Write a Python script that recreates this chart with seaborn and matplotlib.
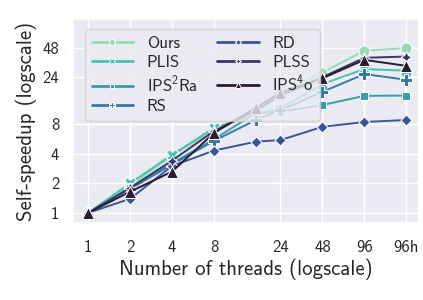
import matplotlib
matplotlib.use("Agg")
import matplotlib.pyplot as plt
from matplotlib.ticker import NullLocator
import pandas as pd
import seaborn as sns

# thread counts (192 = 96 cores with hyperthreading)
threads = [1, 2, 4, 8, 16, 24, 48, 96, 192]
tick_values = [1, 2, 4, 8, 24, 48, 96, 192]
tick_labels = ["1", "2", "4", "8", "24", "48", "96", "96h"]
y_ticks = [1, 2, 4, 8, 24, 48]

algos = ["Ours", "PLIS", "IPS$^2$Ra", "RS", "RD", "PLSS", "IPS$^4$o"]
ours = [1, 1.9, 3.8, 7.0, 11.5, 16.5, 26.7, 44.8, 47.4]
plis = [1, 2.0, 3.9, 7.3, 10.0, 11.5, 20.5, 29.0, 28.0]
ips2ra = [1, 1.8, 3.2, 5.6, 10.4, 10.7, 12.5, 15.5, 15.6]
rs = [1, 1.75, 3.1, 5.4, 8.8, 11.1, 17.0, 25.8, 22.6]
rd = [1, 1.39, 3.0, 4.3, 5.3, 5.5, 7.5, 8.4, 8.8]
plss = [1, 1.8, 3.4, 6.8, 11.0, 15.5, 24.0, 37.8, 38.9]
ips4o = [1, 1.64, 2.63, 6.5, 11.7, 16.6, 23.4, 36.0, 31.3]

series = [ours, plis, ips2ra, rs, rd, plss, ips4o]
rows = []
for name, vals in zip(algos, series):
    for t, v in zip(threads, vals):
        rows.append({"threads": t, "speedup": v, "algo": name})
df = pd.DataFrame(rows)

sns.set_theme(style="darkgrid")
plt.rcParams["font.family"] = ["cmss10", "DejaVu Sans"]
plt.rcParams["mathtext.fontset"] = "custom"
plt.rcParams["mathtext.rm"] = "cmss10"
plt.rcParams["mathtext.sf"] = "cmss10"
plt.rcParams["axes.unicode_minus"] = False

fig = plt.figure(figsize=(4.23, 3.0), dpi=100)
ax = fig.add_axes([0.173, 0.257, 0.817, 0.68])

sns.lineplot(
    data=df, x="threads", y="speedup", hue="algo", style="algo",
    markers=True, dashes=False, palette="mako_r", hue_order=algos,
    style_order=algos, markersize=8, linewidth=1.4, ax=ax,
)

ax.set_xscale("log", base=2)
ax.set_yscale("log", base=2)
ax.set_xlim(0.78, 236)
ax.set_ylim(0.79, 94)
ax.set_xticks(tick_values)
ax.set_xticklabels(tick_labels)
ax.set_yticks(y_ticks)
ax.set_yticklabels([str(v) for v in y_ticks])
ax.xaxis.set_minor_locator(NullLocator())
ax.yaxis.set_minor_locator(NullLocator())
ax.tick_params(axis="x", labelsize=12, pad=6)
ax.tick_params(axis="y", labelsize=12, pad=4)

ax.set_xlabel("Number of threads (logscale)", fontsize=15, labelpad=3)
ax.set_ylabel("Self-speedup (logscale)", fontsize=15, labelpad=4)

handles, labels = ax.get_legend_handles_labels()
leg = ax.legend(handles, labels, ncol=2, loc="upper left", fontsize=12,
                markerscale=0.55, handlelength=2.5, columnspacing=1.2,
                labelspacing=0.25, borderpad=0.4, handletextpad=0.8,
                framealpha=0.8, bbox_to_anchor=(0.01, 0.99))
for line in leg.get_lines():
    line.set_linewidth(2)

fig.savefig("out.png", dpi=100)
